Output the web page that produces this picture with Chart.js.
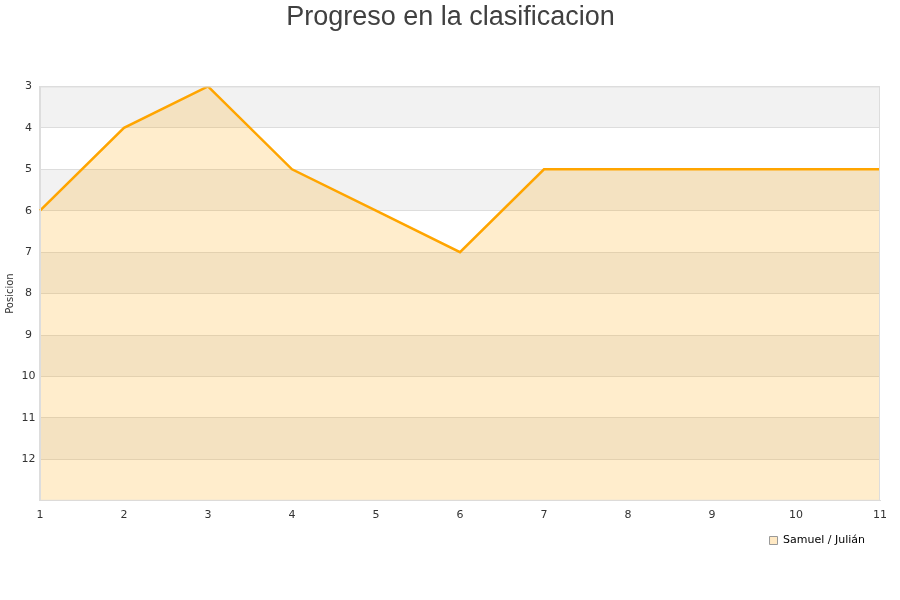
<!DOCTYPE html>
<html>
<head>
<meta charset="utf-8">
<script src="https://cdn.jsdelivr.net/npm/chart.js@4/dist/chart.umd.min.js"></script>
<style>
  html, body { margin: 0; padding: 0; background: #fff; }
  #wrap { width: 900px; height: 600px; }
</style>
</head>
<body>
<div id="wrap"><canvas id="clasif"></canvas></div>
<script>
// jornadas y posiciones
const jornadas = [1, 2, 3, 4, 5, 6, 7, 8, 9, 10, 11];
const posiciones = [6, 4, 3, 5, 6, 7, 5, 5, 5, 5, 5];
const serieNombre = 'Samuel / Julián';

// franjas grises alternas detras del area
const franjas = {
  id: 'franjas',
  afterLayout(chart) {
    // la leyenda queda algo separada del borde derecho
    chart.legend.right -= 28;
  },
  beforeDraw(chart) {
    const { ctx, chartArea, scales } = chart;
    const y = scales.y;
    ctx.save();
    ctx.fillStyle = '#f2f2f2';
    for (let v = 3; v < 13; v += 2) {
      const a = y.getPixelForValue(v);
      const b = y.getPixelForValue(v + 1);
      ctx.fillRect(chartArea.left, a, chartArea.right - chartArea.left, b - a);
    }
    ctx.restore();
  },
  afterDraw(chart) {
    // marco alrededor del area
    const { ctx, chartArea } = chart;
    ctx.save();
    ctx.strokeStyle = '#dddddd';
    ctx.lineWidth = 1;
    ctx.strokeRect(chartArea.left + 0.5, chartArea.top + 0.5,
      chartArea.right - chartArea.left - 1, chartArea.bottom - chartArea.top - 1);
    ctx.restore();
  }
};

new Chart(document.getElementById('clasif'), {
  type: 'line',
  data: {
    labels: jornadas,
    datasets: [{
      label: serieNombre,
      data: posiciones,
      borderColor: '#ffa500',
      backgroundColor: 'rgba(255, 165, 0, 0.2)',
      borderWidth: 2.5,
      pointRadius: 0,
      tension: 0,
      fill: 'start'
    }]
  },
  options: {
    responsive: true,
    maintainAspectRatio: false,
    animation: false,
    layout: { padding: { left: 3, right: 2, top: 0, bottom: 44 } },
    plugins: {
      title: {
        display: true,
        text: 'Progreso en la clasificacion',
        color: '#404040',
        font: { family: 'Liberation Sans, Arial', size: 27, weight: 'normal' },
        padding: { top: 1, bottom: 53 }
      },
      legend: {
        position: 'bottom',
        align: 'end',
        labels: {
          boxWidth: 8,
          boxHeight: 8,
          padding: 5,
          color: '#000',
          font: { family: 'DejaVu Sans', size: 11 },
          generateLabels: chart => chart.data.datasets.map((ds, i) => ({
            text: ds.label,
            fillStyle: '#ffe9c4',
            strokeStyle: '#999999',
            lineWidth: 1,
            fontColor: '#000',
            datasetIndex: i
          }))
        }
      },
      tooltip: { enabled: false }
    },
    scales: {
      x: {
        offset: false,
        grid: { display: false, drawTicks: false },
        border: { color: '#dddddd' },
        ticks: { color: '#333', font: { family: 'DejaVu Sans', size: 11 }, padding: 8, maxRotation: 0 },
        afterFit: s => { s.paddingRight = 20; }
      },
      y: {
        reverse: true,
        min: 3,
        max: 13,
        grid: { color: '#dddddd', drawTicks: false },
        border: { color: '#dddddd' },
        ticks: {
          stepSize: 1,
          color: '#333',
          padding: 4.5,
          crossAlign: 'center',
          font: { family: 'DejaVu Sans', size: 11 },
          callback: v => (v === 13 ? '' : v)
        },
        title: {
          display: true,
          text: 'Posicion',
          color: '#333',
          font: { family: 'DejaVu Sans', size: 10 },
          padding: 1
        }
      }
    }
  },
  plugins: [franjas]
});
</script>
</body>
</html>
